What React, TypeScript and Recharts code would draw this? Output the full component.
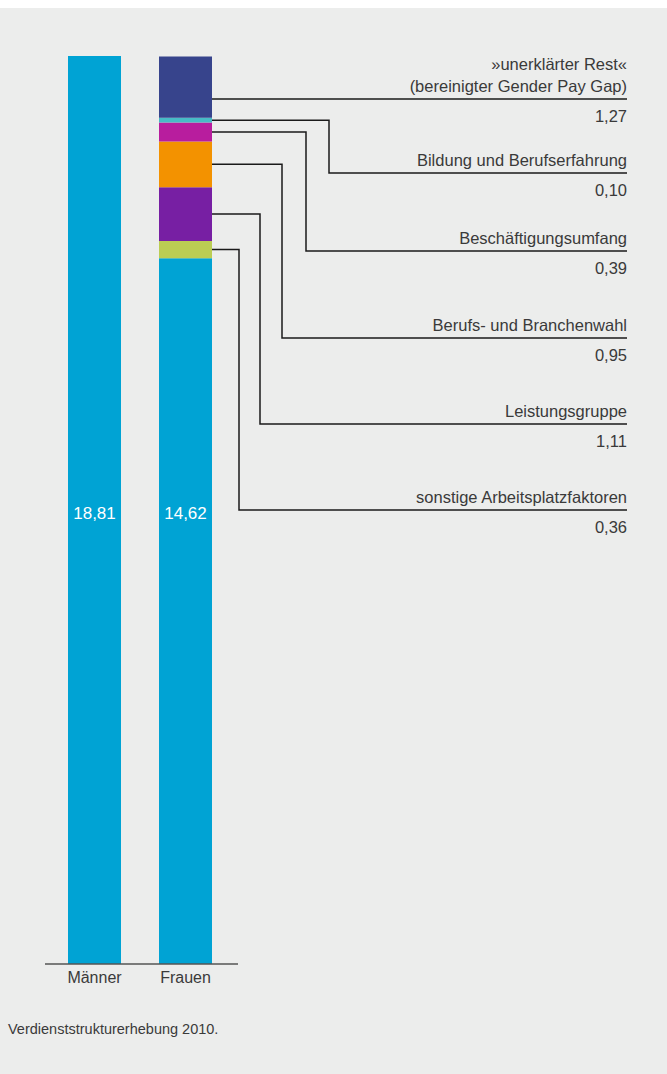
import React from 'react';
import { BarChart, Bar, XAxis, YAxis, LabelList } from 'recharts';

// ---- data ----
const categories = ['Männer', 'Frauen'];
const baseValues = [18.81, 14.62];
const segmentKeys = ['s0', 's1', 's2', 's3', 's4', 's5'];
const segmentValues = [0.36, 1.11, 0.95, 0.39, 0.1, 1.27];
const segmentLabels = [
  ['sonstige Arbeitsplatzfaktoren'],
  ['Leistungsgruppe'],
  ['Berufs- und Branchenwahl'],
  ['Beschäftigungsumfang'],
  ['Bildung und Berufserfahrung'],
  ['»unerklärter Rest«', '(bereinigter Gender Pay Gap)'],
];
const segmentColors = ['#bbcd53', '#771fa3', '#f39200', '#b81d9e', '#47bbc6', '#37448c'];
const BASE_COLOR = '#00a3d4';
const footerText = 'Verdienststrukturerhebung 2010.';

// ---- annotation layout (chart coordinates) ----
const ROW_Y = [502, 416, 330, 243, 165, 91];
const ELBOW_X: (number | null)[] = [239, 260, 282, 306, 329, null];
const LABEL_RIGHT = 627;
const VALUE_LABEL_LEVEL = 9.35;

const FONT = '"Liberation Sans", Arial, Helvetica, sans-serif';
const TEXT_COLOR = '#3a3a3a';
const LINE_COLOR = '#1a1a1a';

const fmt = (v: number) => v.toFixed(2).replace('.', ',');

const data = categories.map((c, i) => {
  const row: any = { name: c, base: baseValues[i] };
  if (i === 1) segmentKeys.forEach((k, j) => (row[k] = segmentValues[j]));
  return row;
});

const makeLeader = (j: number) => (props: any) => {
  const { x, y, width, height, value } = props;
  if (value == null || value === '' || Number.isNaN(Number(x))) return null;
  const x0 = Number(x) + Number(width);
  const ry = ROW_Y[j];
  const ex = ELBOW_X[j];
  const sy = Number(y) + Number(height) / 2;
  const d = ex == null ? `M${x0},${ry}H${LABEL_RIGHT}` : `M${x0},${sy}H${ex}V${ry}H${LABEL_RIGHT}`;
  const lines = segmentLabels[j];
  return (
    <g>
      <path d={d} fill="none" stroke={LINE_COLOR} strokeWidth={1.5} />
      {lines.map((t, k) => (
        <text
          key={k}
          x={LABEL_RIGHT}
          y={ry - 7 - (lines.length - 1 - k) * 22}
          textAnchor="end"
          fontFamily={FONT}
          fontSize={16.5}
          fill={TEXT_COLOR}
        >
          {t}
        </text>
      ))}
      <text x={LABEL_RIGHT} y={ry + 23} textAnchor="end" fontFamily={FONT} fontSize={16.5} fill={TEXT_COLOR}>
        {fmt(segmentValues[j])}
      </text>
    </g>
  );
};

const BaseLabel = (props: any) => {
  const { x, y, width, height, value } = props;
  const v = Number(value);
  if (!v) return null;
  const bottom = Number(y) + Number(height);
  const pxPerUnit = Number(height) / v;
  const cy = bottom - VALUE_LABEL_LEVEL * pxPerUnit;
  return (
    <text
      x={Number(x) + Number(width) / 2}
      y={cy}
      dy={6}
      textAnchor="middle"
      fontFamily={FONT}
      fontSize={17}
      fontWeight={500}
      fill="#ffffff"
    >
      {fmt(v)}
    </text>
  );
};

export default function App() {
  return (
    <div
      style={{
        position: 'absolute',
        left: 0,
        top: 8,
        width: 667,
        height: 1066,
        background: '#ecedec',
        overflow: 'hidden',
      }}
    >
      <BarChart
        width={667}
        height={1000}
        data={data}
        margin={{ top: 48, right: 429, bottom: 0, left: 45 }}
        barSize={53}
        style={{ overflow: 'visible' }}
      >
        <YAxis hide domain={[0, baseValues[0]]} allowDataOverflow />
        <XAxis
          dataKey="name"
          height={44}
          padding={{ left: 4, right: 7 }}
          tickLine={false}
          axisLine={{ stroke: '#555555', strokeWidth: 1.5 }}
          tick={{ fontFamily: FONT, fontSize: 16, fill: TEXT_COLOR }}
        />
        <Bar dataKey="base" stackId="a" fill={BASE_COLOR} isAnimationActive={false}>
          <LabelList dataKey="base" content={BaseLabel} />
        </Bar>
        {segmentKeys.map((k, j) => (
          <Bar key={k} dataKey={k} stackId="a" fill={segmentColors[j]} isAnimationActive={false}>
            <LabelList dataKey={k} content={makeLeader(j)} />
          </Bar>
        ))}
      </BarChart>
      <div
        style={{
          position: 'absolute',
          left: 8,
          top: 1013,
          fontFamily: FONT,
          fontSize: 14.5,
          lineHeight: '16px',
          color: TEXT_COLOR,
        }}
      >
        {footerText}
      </div>
    </div>
  );
}
